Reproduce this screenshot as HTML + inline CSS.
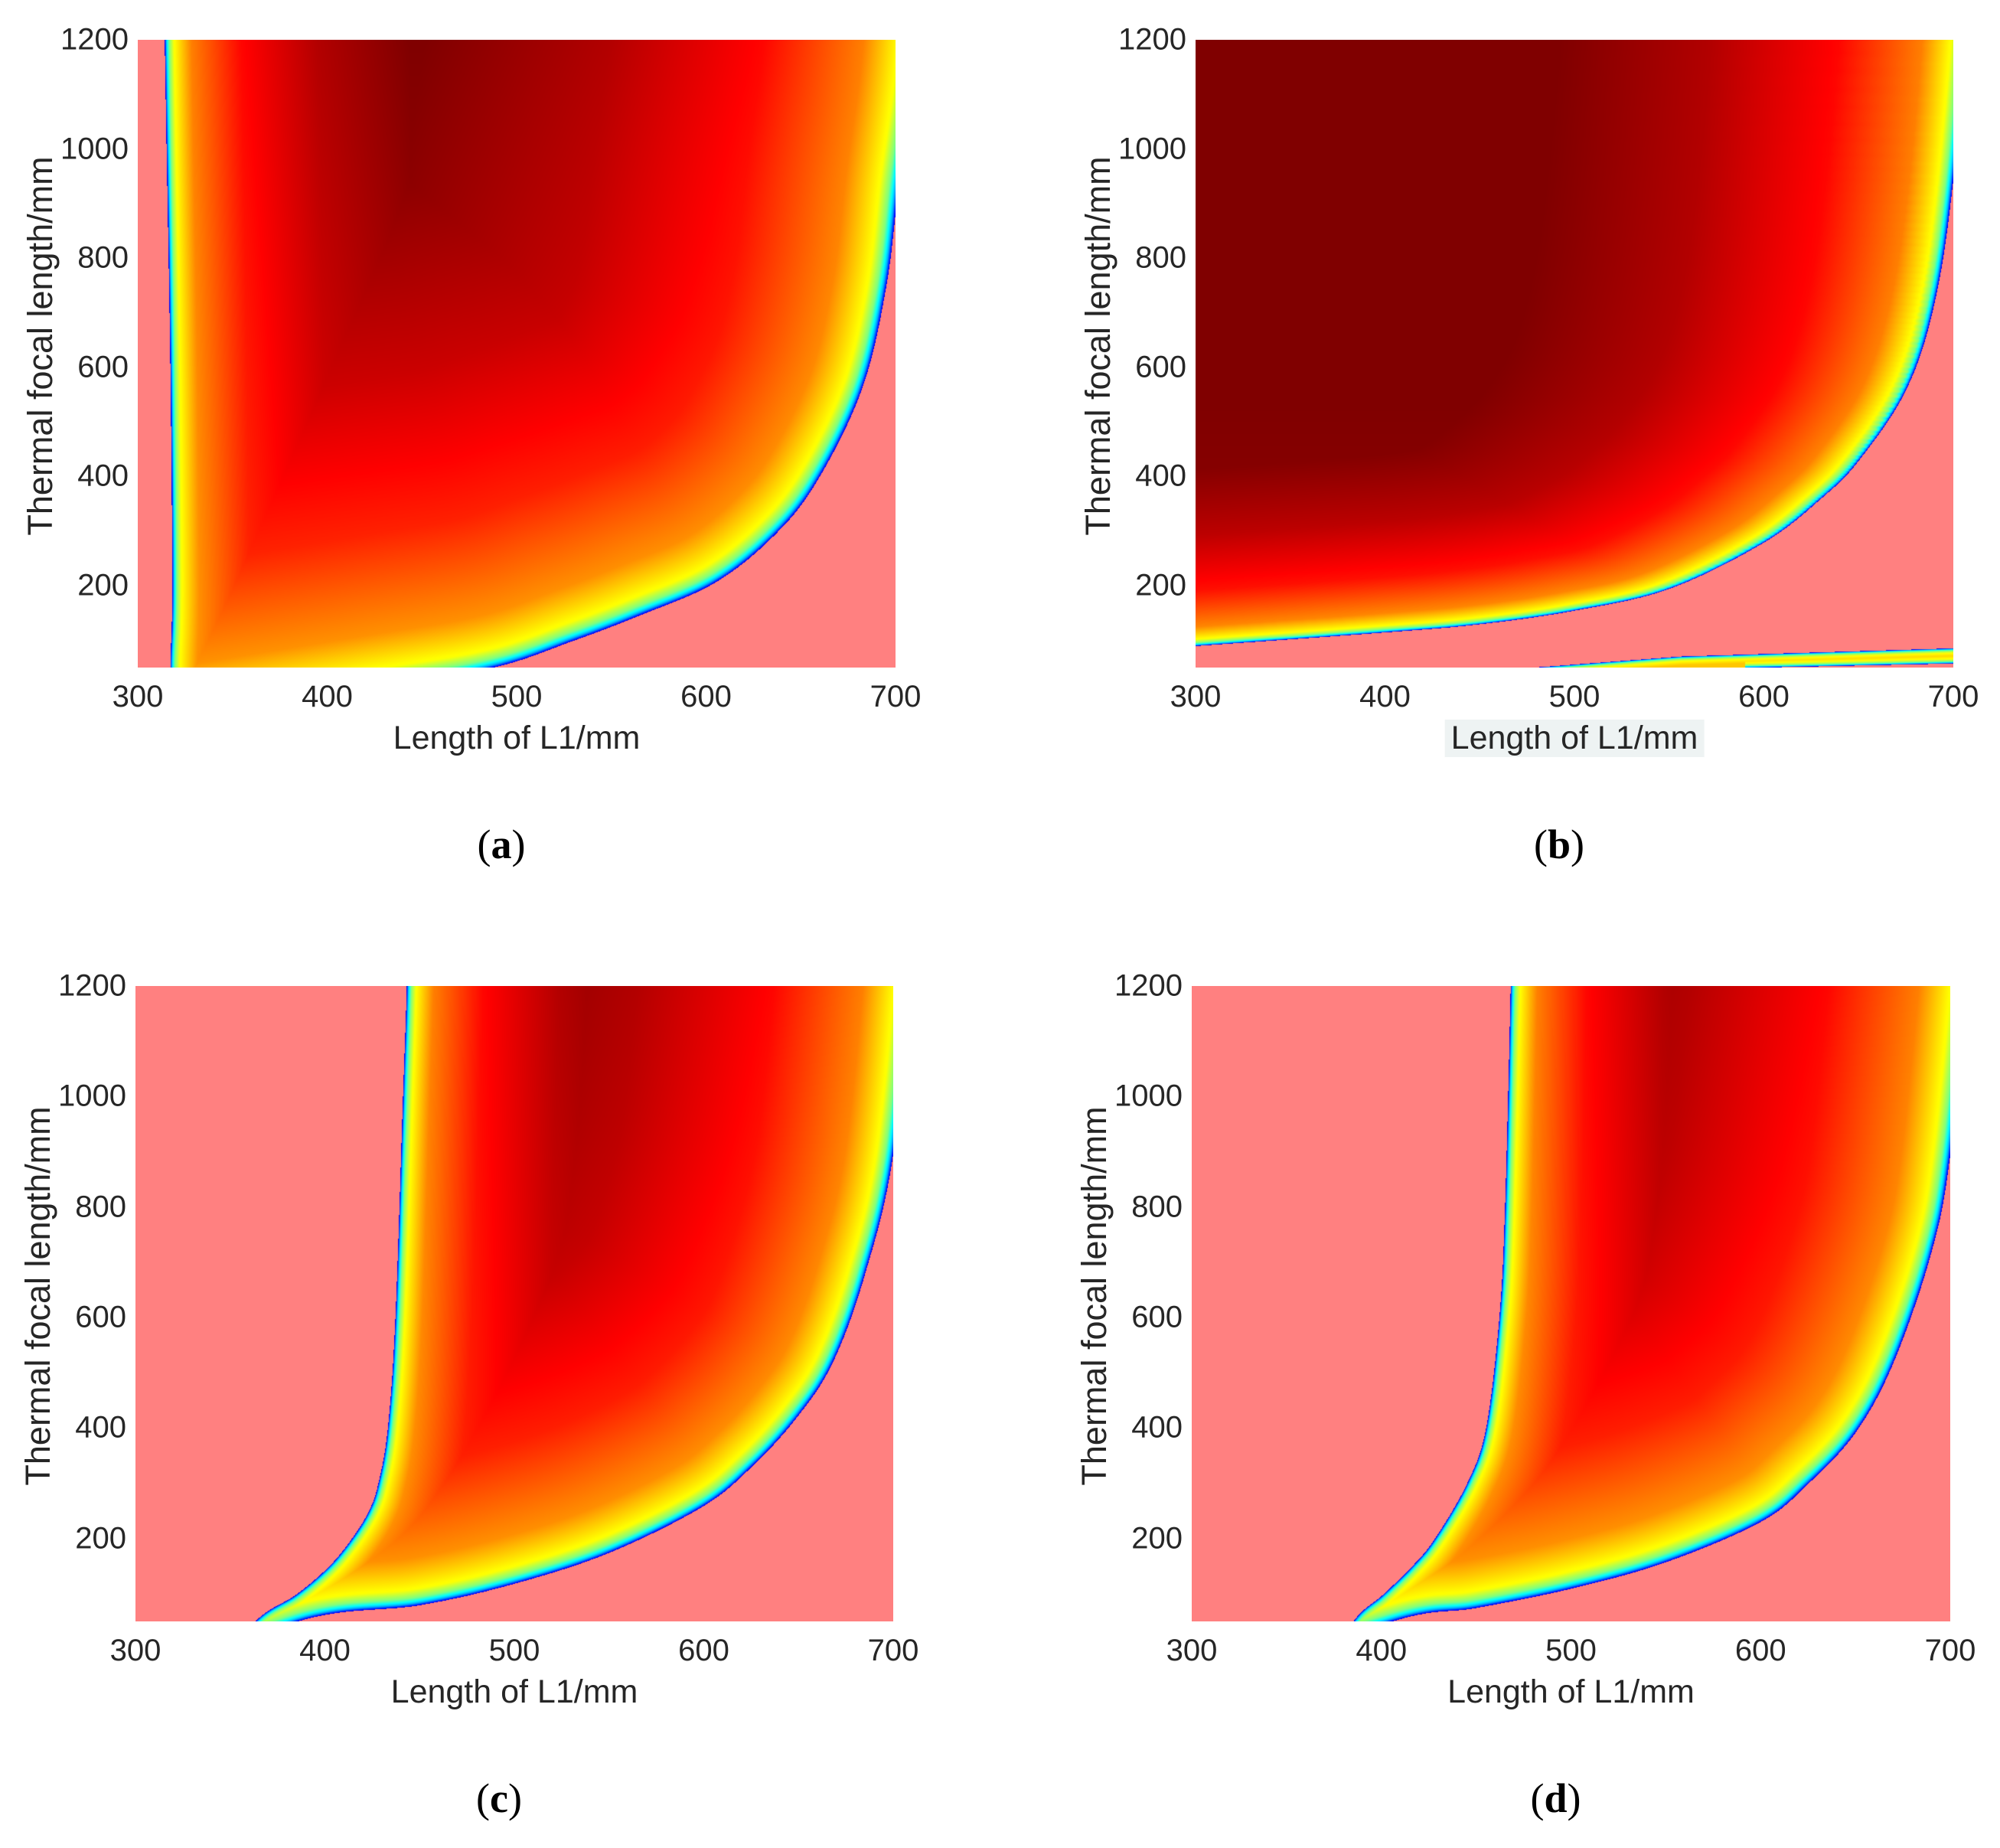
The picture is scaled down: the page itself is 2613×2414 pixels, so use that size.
<!DOCTYPE html>
<html><head><meta charset="utf-8"><style>
body{margin:0;background:#fff;}
#root{position:relative;width:2613px;height:2414px;overflow:hidden;background:#fff;font-family:"Liberation Sans",sans-serif;color:#262626;}
canvas{position:absolute;}
.t{position:absolute;font-size:40px;white-space:nowrap;}
.xt{transform:translateX(-50%);}
.yt{transform:translateY(-50%);text-align:right;}
.xl{position:absolute;font-size:43px;transform:translateX(-50%);white-space:nowrap;}
.yl{position:absolute;font-size:45px;white-space:nowrap;transform:translate(-50%,-50%) rotate(-90deg);}
.cap{position:absolute;font-family:"Liberation Serif",serif;font-size:54px;color:#000;transform:translateX(-50%);}
</style></head><body>
<div id="root"></div>
<script>
// ---- data (L1 in mm, f in mm) ----
const xTicks=[300,400,500,600,700];
const yTicks=[200,400,600,800,1000,1200];
const panelNames=['a','b','c','d'];
// left boundary: [f, L]
const leftA=[[-50,318],[50,317],[200,318],[600,317],[1000,315],[1200,314],[1400,313]];
const leftB=null;
const leftC=[[-50,345],[50,363],[100,385],[150,402],[200,414],[250,423],[300,428],[400,433],[600,437],[1000,441],[1200,443],[1400,444]];
const leftD=[[-50,372],[50,385],[100,401],[150,416],[200,428],[300,445],[400,455],[600,462],[800,465],[1200,468],[1400,469]];
// lower/right boundary: [L, f]
const lowerA=[[280,-70],[420,10],[487,50],[530,100],[564,145],[604,205],[635,290],[658,390],[682,560],[695,750],[702,950],[710,1150],[716,1400]];
const lowerB=[[280,85],[300,90],[400,115],[450,130],[500,155],[550,195],[600,280],[630,360],[650,430],[675,560],[690,720],[700,950],[712,1400]];
const lowerC=[[300,-80],[385,50],[450,80],[500,119],[550,175],[599,258],[625,330],[649,420],[668,520],[685,680],[700,900],[712,1300]];
const lowerD=[[300,-80],[405,50],[450,75],[500,110],[550,158],[600,231],[625,300],[650,393],[670,520],[690,720],[700,900],[712,1300]];
// thin band in panel b: [L, f]
const sliverTopB=[[476,50],[556,71],[700,86]];
const sliverBotB=[[590,50],[700,58]];

const panels=[
 {id:'a',x:180,y:52,w:990,h:820,left:leftA,lower:lowerA,kl:[1,1],kr:[0.5,0.5]},
 {id:'b',x:1562,y:52,w:990,h:820,left:leftB,lower:lowerB,sl:true,kl:[1,1],kr:[0.6,1.4]},
 {id:'c',x:177,y:1288,w:990,h:830,left:leftC,lower:lowerC,kl:[1,1],kr:[0.56,0.56]},
 {id:'d',x:1557,y:1288,w:991,h:830,left:leftD,lower:lowerD,kl:[1,1],kr:[0.55,0.55]}
];
const root=document.getElementById('root');
function interp(arr,v){
 if(v<=arr[0][0])return arr[0][1];
 for(let i=1;i<arr.length;i++){if(v<=arr[i][0]){const a=arr[i-1],b=arr[i];return a[1]+(b[1]-a[1])*(v-a[0])/(b[0]-a[0]);}}
 return arr[arr.length-1][1];
}
function spline(pts,n){
 const out=[];
 for(let i=0;i<pts.length-1;i++){
  const p0=pts[Math.max(0,i-1)],p1=pts[i],p2=pts[i+1],p3=pts[Math.min(pts.length-1,i+2)];
  for(let s=0;s<n;s++){const t=s/n,t2=t*t,t3=t2*t;
   const c=k=>0.5*((2*p1[k])+(-p0[k]+p2[k])*t+(2*p0[k]-5*p1[k]+4*p2[k]-p3[k])*t2+(-p0[k]+3*p1[k]-3*p2[k]+p3[k])*t3);
   out.push([c(0),c(1)]);}
 }
 out.push(pts[pts.length-1]);return out;
}
function jet(v){const c=x=>Math.max(0,Math.min(1,x));return [c(1.5-Math.abs(4*v-3)),c(1.5-Math.abs(4*v-2)),c(1.5-Math.abs(4*v-1))];}
const dStops=[[0,0.1],[2,0.3],[6,0.5],[12,0.62],[35,0.75],[100,0.87],[200,0.95],[320,1]];
function segDist(px,py,s,kx,ky){let m=1e9;for(let i=1;i<s.length;i++){const ax=s[i-1][0],ay=s[i-1][1],bx=s[i][0],by=s[i][1];const dx=bx-ax,dy=by-ay;const l=dx*dx+dy*dy;let t=l?((px-ax)*dx+(py-ay)*dy)/l:0;t=Math.max(0,Math.min(1,t));const ex=(ax+t*dx-px)*kx,ey=(ay+t*dy-py)*ky;const d=ex*ex+ey*ey;if(d<m)m=d;}return Math.sqrt(m);}

panels.forEach(p=>{
 const sx=L=>(L-300)/400*p.w, sy=f=>(1200-f)/1150*p.h;
 const cv=document.createElement('canvas');
 cv.width=p.w;cv.height=p.h;cv.style.left=p.x+'px';cv.style.top=p.y+'px';
 
 
 root.appendChild(cv);
 const ctx=cv.getContext('2d');const img=ctx.createImageData(p.w,p.h);const D=img.data;
 const leftS=p.left?spline(p.left,16):null;
 const lowerS=spline(p.lower,16);
 const lp=leftS?leftS.map(q=>[sx(q[1]),sy(q[0])]):null;
 const wp=lowerS.map(q=>[sx(q[0]),sy(q[1])]);
 const st=p.sl?sliverTopB.map(q=>[sx(q[0]),sy(q[1])]):null;
 const sb=p.sl?sliverBotB.map(q=>[sx(q[0]),sy(q[1])]):null;
 for(let j=0;j<p.h;j++){const f=1200-j/p.h*1150;
  const Lleft=leftS?interp(leftS,f):-1e9;
  const m=0.86+0.14*(f-50)/1150;
  for(let i=0;i<p.w;i++){const L=300+i/p.w*400;let col=[255,128,128];
   if(L>Lleft && f>interp(lowerS,L)){
    let d=segDist(i,j,wp,p.kr[0],p.kr[1]);if(lp)d=Math.min(d,segDist(i,j,lp,p.kl[0],p.kl[1]));
    let v=interp(dStops,d);if(v>0.62)v=0.62+(v-0.62)*(p.id==='b'?Math.min(1,m+0.08):m);
    const c=jet(v);col=[c[0]*255,c[1]*255,c[2]*255];
   } else if(p.sl && L>476 && f<interp(sliverTopB,L) && f>(L<590?0:interp(sliverBotB,L))){
    const d=Math.min(segDist(i,j,st,1,1),L>=590?segDist(i,j,sb,1,1):99);
    const v=Math.min(0.68,interp(dStops,d*2));const c=jet(v);col=[c[0]*255,c[1]*255,c[2]*255];
   }
   const k=(j*p.w+i)*4;D[k]=col[0];D[k+1]=col[1];D[k+2]=col[2];D[k+3]=255;}}
 ctx.putImageData(img,0,0);
 xTicks.forEach(t=>{const e=document.createElement('div');e.className='t xt';e.textContent=t;
  e.style.left=(p.x+sx(t))+'px';e.style.top=(p.y+p.h+16)+'px';
  
  root.appendChild(e);});
 yTicks.forEach(t=>{const e=document.createElement('div');e.className='t yt';e.textContent=t;
  e.style.right=(2613-p.x+12)+'px';e.style.top=(p.y+sy(t))+'px';
  
  root.appendChild(e);});
 const xl=document.createElement('div');xl.className='xl';xl.textContent='Length of L1/mm';
 xl.style.left=(p.x+p.w/2)+'px';xl.style.top=(p.y+p.h+68)+'px';
 if(p.id==='b'){xl.style.background='#eef3f3';xl.style.padding='0 8px';}
 
 root.appendChild(xl);
 const yl=document.createElement('div');yl.className='yl';yl.textContent='Thermal focal length/mm';
 yl.style.left=(p.x-127)+'px';yl.style.top=(p.y+p.h/2-10)+'px';
 
 root.appendChild(yl);
 const cap=document.createElement('div');cap.className='cap';cap.innerHTML='(<b>'+p.id+'</b>)';
 cap.style.left=(p.x+p.w/2-20)+'px';cap.style.top=(p.y+p.h+200)+'px';
 
 root.appendChild(cap);
});
</script>
</body></html>
